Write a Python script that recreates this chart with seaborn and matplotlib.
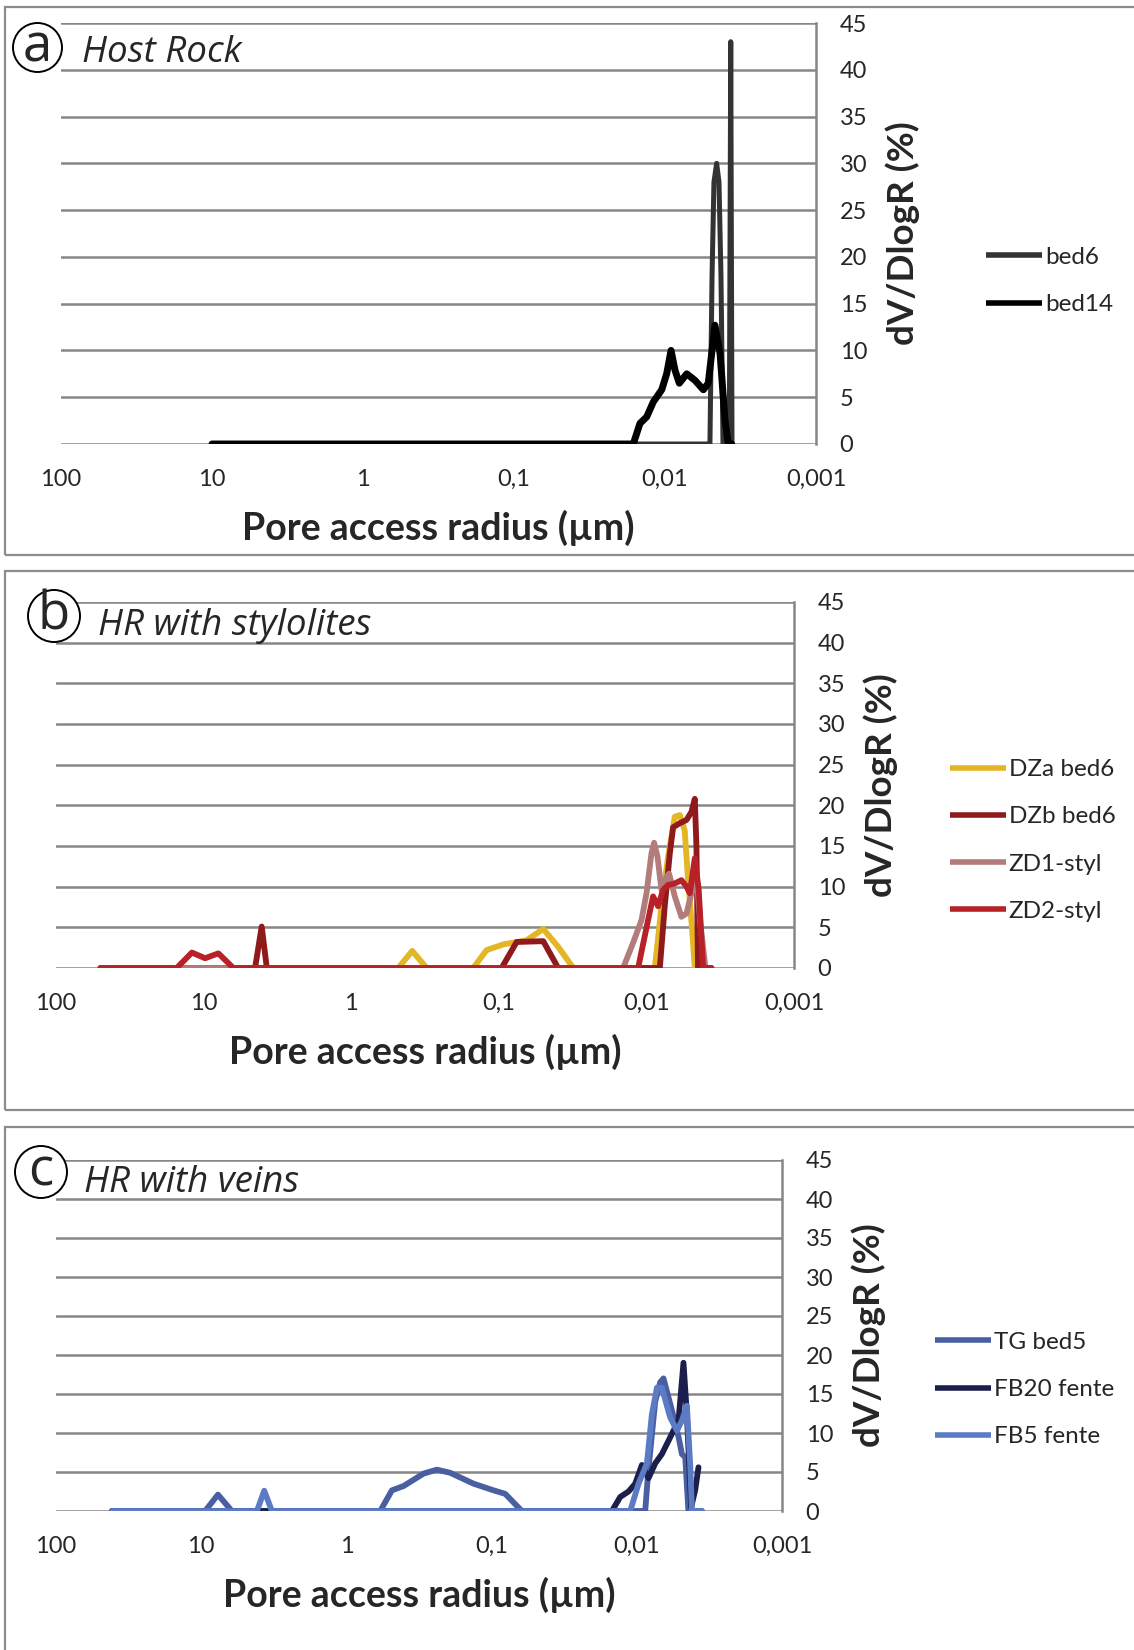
import matplotlib
matplotlib.use("Agg")
import matplotlib.pyplot as plt
import seaborn as sns
import pandas as pd
from matplotlib.patches import Circle, Rectangle
from matplotlib.ticker import NullLocator

# ---- data (pore radius in µm, dV/DlogR in %) ----
bed6_r = [10, 0.00504, 0.00488, 0.00474, 0.00455, 0.00439, 0.00426, 0.00413, 0.00375,
          0.00367, 0.00360]
bed6_v = [0, 0, 18, 28, 30, 28, 18, 0, 0, 43, 0]
bed14_r = [10, 0.01622, 0.01465, 0.01322, 0.01195, 0.01051, 0.00975, 0.00912, 0.00859,
           0.00804, 0.00718, 0.00633, 0.00557, 0.00517, 0.00467, 0.00432, 0.00401,
           0.00381, 0.00362]
bed14_v = [0, 0, 2.2, 2.9, 4.5, 5.8, 7.5, 10.0, 7.9, 6.5, 7.5, 6.8, 5.8, 6.5, 12.7,
           9.7, 2.6, 0, 0]

dza_r = [50, 0.480, 0.386, 0.308, 0.149, 0.121, 0.0933, 0.0649, 0.0500, 0.0396, 0.0313,
         0.00877, 0.00790, 0.00713, 0.00642, 0.00594, 0.00550, 0.00522, 0.00490, 0.00470,
         0.00398]
dza_v = [0, 0, 2.1, 0, 0, 2.2, 2.9, 3.4, 4.8, 2.6, 0, 0, 7.6, 13.7, 18.6, 18.8, 16.9,
         10.8, 4.7, 0, 0]
dzb_r = [50, 4.48, 4.04, 3.73, 0.0957, 0.0757, 0.0500, 0.0396, 0.00811, 0.00751, 0.00694,
         0.00659, 0.00594, 0.00535, 0.00495, 0.00470, 0.00458, 0.00447, 0.00398]
dzb_v = [0, 0, 5.1, 0, 0, 3.2, 3.3, 0, 0, 7.6, 14.1, 17.3, 17.8, 18.2, 19.2, 20.8, 14.9,
         0, 0]
zd1_r = [50, 0.01438, 0.01230, 0.01079, 0.00998, 0.00924, 0.00887, 0.00841, 0.00790,
         0.00731, 0.00702, 0.00642, 0.00579, 0.00535, 0.00495, 0.00458, 0.00428, 0.00398,
         0.00362]
zd1_v = [0, 0, 3.1, 5.9, 9.2, 14.1, 15.4, 13.7, 9.6, 11.2, 11.6, 8.8, 6.3, 6.7, 9.2,
         11.2, 5.0, 0, 0]
zd2_r = [50, 15.2, 12.0, 9.77, 7.94, 6.29, 0.01138, 0.00974, 0.00901, 0.00833, 0.00771,
         0.00713, 0.00642, 0.00579, 0.00535, 0.00508, 0.00470, 0.00442, 0.00413, 0.00362]
zd2_v = [0, 0, 1.9, 1.2, 1.8, 0, 0, 5.9, 8.8, 7.6, 9.6, 10.2, 10.4, 10.8, 10.0, 9.2,
         13.5, 9.6, 0, 0]

tg_r = [41.2, 9.39, 7.67, 6.15, 0.585, 0.486, 0.404, 0.294, 0.238, 0.193, 0.133, 0.0970,
        0.0806, 0.0619, 0.00875, 0.00835, 0.00747, 0.00690, 0.00655, 0.00573, 0.00516,
        0.00489, 0.00464, 0.00441, 0.00356]
tg_v = [0, 0, 2.1, 0, 0, 2.65, 3.2, 4.8, 5.3, 4.9, 3.5, 2.65, 2.2, 0, 0, 5.0, 14.0,
        16.5, 17.0, 12.9, 9.5, 7.3, 6.9, 0, 0]
fb20_r = [41.2, 0.01484, 0.01301, 0.01140, 0.01026, 0.00922, 0.00831, 0.00747, 0.00672,
          0.00605, 0.00559, 0.00516, 0.00477, 0.00452, 0.00422, 0.00396, 0.00376]
fb20_v = [0, 0, 1.8, 2.5, 3.5, 5.9, 4.2, 6.1, 7.3, 9.0, 10.3, 11.6, 19.0, 12.4, 0.5,
          2.7, 5.6]
fb5_r = [41.2, 4.13, 3.68, 3.26, 0.01110, 0.00973, 0.00852, 0.00787, 0.00727, 0.00672,
         0.00589, 0.00529, 0.00489, 0.00452, 0.00429, 0.00417, 0.00356]
fb5_v = [0, 0, 2.6, 0, 0, 3.5, 6.1, 12.4, 15.8, 15.8, 12.0, 10.3, 11.6, 13.5, 6.0, 0, 0]

x_ticks = [100, 10, 1, 0.1, 0.01, 0.001]
x_labels = ["100", "10", "1", "0,1", "0,01", "0,001"]
y_ticks = list(range(0, 50, 5))

W, H = 1134, 1650
GRID = "#878787"

sns.set_style("white")
plt.rcParams["font.family"] = ["Lato", "DejaVu Sans"]

fig = plt.figure(figsize=(W / 100, H / 100), dpi=100)


def px_box(x0, y0, x1, y1):
    return [x0 / W, 1 - y1 / H, (x1 - x0) / W, (y1 - y0) / H]


def draw_panel(box, series, letter, title, circle, title_pos, frame, legend_pos):
    # grey frame around the panel
    fx0, fy0, fx1, fy1 = frame
    fig.add_artist(Rectangle((fx0 / W, 1 - fy1 / H), (fx1 - fx0) / W, (fy1 - fy0) / H,
                             transform=fig.transFigure, fill=False, ec="#8c8c8c",
                             lw=1.6, zorder=0))

    ax = fig.add_axes(px_box(*box))
    ax.set_xscale("log")
    handles = []
    for name, r, v, color, lw in series:
        df = pd.DataFrame({"r": r, "v": v})
        n_before = len(ax.lines)
        sns.lineplot(data=df, x="r", y="v", ax=ax, sort=False, estimator=None,
                     color=color, legend=False)
        line = ax.lines[n_before]
        line.set_linewidth(lw)
        line.set_solid_joinstyle("round")
        line.set_solid_capstyle("round")
        line.set_label(name)
        handles.append(line)

    ax.set_xlim(100, 0.001)
    ax.set_ylim(0, 45)
    ax.set_xticks(x_ticks)
    ax.set_xticklabels(x_labels)
    ax.xaxis.set_minor_locator(NullLocator())
    ax.set_yticks(y_ticks)
    ax.yaxis.tick_right()
    ax.yaxis.set_label_position("right")
    ax.tick_params(axis="x", length=0, pad=18, labelsize=17)
    ax.tick_params(axis="y", length=0, pad=17, labelsize=17)
    ax.yaxis.grid(True, color=GRID, lw=1.8)
    ax.set_axisbelow(True)
    for side in ["top", "left", "bottom"]:
        ax.spines[side].set_visible(False)
    ax.spines["right"].set_color(GRID)
    ax.spines["right"].set_linewidth(1.8)

    ax.set_xlabel("Pore access radius (µm)", fontsize=27, fontweight="bold", labelpad=14)
    ax.set_ylabel("dV/DlogR (%)", fontsize=26.5, fontweight="bold", labelpad=13)

    leg = ax.legend(handles=handles, loc="center left",
                    bbox_to_anchor=(legend_pos[0] / W, 1 - legend_pos[1] / H),
                    bbox_transform=fig.transFigure, frameon=False, fontsize=17.5,
                    handlelength=2.3, handletextpad=0.12, labelspacing=1.08,
                    borderpad=0, borderaxespad=0)
    for line in leg.get_lines():
        line.set_linewidth(4.0)
        line.set_solid_capstyle("butt")

    # circled letter and italic panel title
    cx, cy, rad = circle
    fig.add_artist(Circle((cx / 100, (H - cy) / 100), rad / 100,
                          transform=fig.dpi_scale_trans, fc="white", ec="black",
                          lw=1.4, zorder=5))
    fig.text(cx / W, 1 - cy / H, letter, ha="center", va="center", fontsize=38,
             family="Open Sans", zorder=6)
    fig.text(title_pos[0] / W, 1 - title_pos[1] / H, title, ha="left", va="baseline",
             fontsize=26.5, style="italic", family="Open Sans", zorder=6)
    return ax


draw_panel((61, 23, 816, 444),
           [("bed6", bed6_r, bed6_v, "#333333", 3.6),
            ("bed14", bed14_r, bed14_v, "#000000", 5.0)],
           "a", "Host Rock", (37.5, 47.5, 24.5), (82, 61.7), (5, 7, 1300, 555),
           (986, 281))

draw_panel((56, 602, 794, 968),
           [("DZa bed6", dza_r, dza_v, "#E4B524", 4.2),
            ("DZb bed6", dzb_r, dzb_v, "#8F1A1C", 4.2),
            ("ZD1-styl", zd1_r, zd1_v, "#B37C7B", 4.2),
            ("ZD2-styl", zd2_r, zd2_v, "#B72127", 4.2)],
           "b", "HR with stylolites", (54, 616, 26), (98, 635), (5, 571, 1300, 1110),
           (950, 840.5))

draw_panel((56, 1160, 782, 1511),
           [("TG bed5", tg_r, tg_v, "#4A5EA2", 4.2),
            ("FB20 fente", fb20_r, fb20_v, "#1C1F4C", 4.2),
            ("FB5 fente", fb5_r, fb5_v, "#5B7BC4", 4.2)],
           "c", "HR with veins", (41, 1172, 26), (84, 1192), (5, 1127, 1300, 1700),
           (935, 1389.6))

fig.savefig("out.png", dpi=100)
